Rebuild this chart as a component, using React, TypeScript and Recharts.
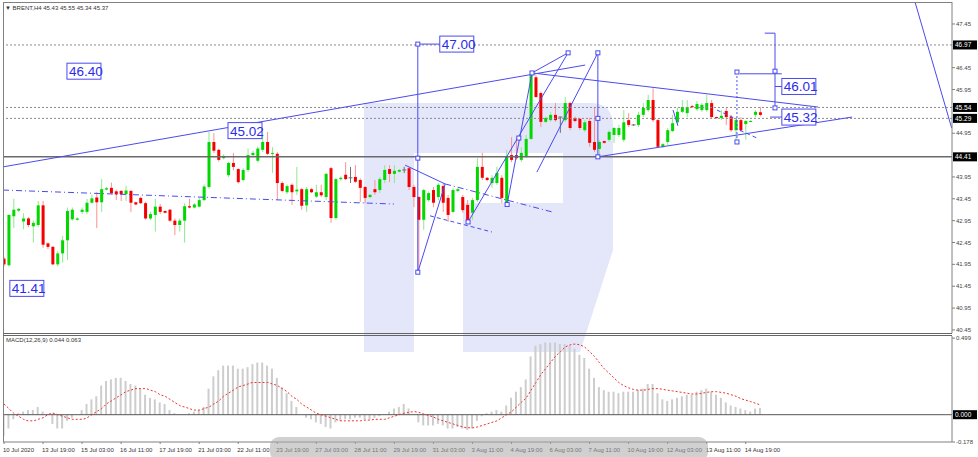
import React from 'react';
import { ComposedChart, Bar, Line, XAxis, YAxis, ReferenceLine, ReferenceDot } from 'recharts';

// BRENT H4, one entry per bar (index 0 = 10 Jul 2020)
const opens = [
  42.08, 41.93, 43.05, 43.18, 42.93, 43.0, 42.82, 42.85, 43.3, 42.43,
  42.35, 41.95, 42.2, 42.5, 42.98, 42.97, 43.15, 43.15, 43.36, 43.48,
  43.37, 43.66, 43.7, 43.62, 43.63, 43.56, 43.63, 43.37, 43.47, 43.35,
  43.0, 43.08, 43.27, 43.17, 43.2, 42.95, 42.85, 42.95, 43.28, 43.25,
  43.27, 43.42, 43.72, 44.75, 44.57, 44.38, 43.99, 44.27, 44.13, 43.88,
  44.11, 44.45, 44.32, 44.57, 44.75, 44.48, 44.48, 43.81, 43.6, 43.77,
  43.62, 43.67, 43.3, 43.67, 43.5, 43.6, 43.49, 44.15, 43.01, 43.9,
  44.0, 43.93, 43.95, 43.88, 43.72, 43.49, 43.67, 43.65, 43.88, 44.13,
  44.02, 44.07, 44.11, 44.15, 43.72, 43.49, 42.97, 43.42, 43.65, 43.49,
  43.74, 43.47, 43.15, 43.63, 43.49, 43.31, 43.13, 43.42, 44.18, 43.93,
  43.81, 43.81, 43.93, 43.31, 44.45, 44.45, 44.34, 44.41, 44.82, 46.23,
  45.87, 45.21, 45.25, 45.37, 45.32, 45.25, 45.64, 45.3, 45.28, 45.02,
  45.23, 44.75, 44.59, 44.77, 44.8, 44.91, 44.91, 44.8, 45.25, 45.14,
  45.14, 45.37, 45.48, 45.71, 45.25, 44.64, 44.75, 45.0, 45.2, 45.44,
  45.41, 45.57, 45.5, 45.48, 45.48, 45.64, 45.32, 45.3, 45.46, 45.32,
  45.02, 45.25, 45.16, 45.21, 45.37, 45.43,
];
const highs = [
  42.12, 43.1, 43.45, 43.24, 43.12, 43.03, 42.95, 43.4, 43.4, 42.45,
  42.37, 42.25, 42.6, 43.25, 43.25, 43.03, 43.25, 43.45, 43.55, 43.6,
  43.9, 43.72, 43.82, 43.66, 43.65, 43.75, 43.65, 43.38, 43.5, 43.38,
  43.15, 43.45, 43.33, 43.18, 43.22, 43.0, 43.0, 43.35, 43.45, 43.35,
  43.47, 43.78, 44.98, 44.95, 44.6, 44.47, 44.3, 44.5, 44.15, 44.15,
  44.6, 44.55, 44.65, 44.98, 44.98, 44.63, 44.52, 43.85, 43.78, 43.8,
  44.18, 43.7, 43.72, 43.7, 43.77, 43.77, 44.04, 44.18, 43.93, 43.96,
  44.29, 44.18, 44.22, 43.92, 43.74, 43.56, 43.88, 43.95, 44.22, 44.22,
  44.22, 44.13, 44.18, 44.18, 43.77, 43.51, 43.68, 43.62, 43.72, 43.81,
  43.81, 43.54, 43.7, 43.7, 43.54, 43.42, 43.47, 44.38, 44.5, 43.95,
  43.99, 44.18, 43.99, 44.57, 44.86, 44.86, 44.63, 44.91, 46.32, 46.28,
  45.9, 45.33, 45.44, 45.64, 45.33, 45.78, 45.67, 45.33, 45.3, 45.25,
  45.3, 45.55, 44.8, 44.78, 45.02, 45.09, 45.14, 45.48, 45.41, 45.16,
  45.44, 45.64, 45.83, 45.98, 45.28, 44.73, 45.07, 45.37, 45.53, 45.71,
  45.71, 45.6, 45.69, 45.64, 45.83, 45.71, 45.33, 45.48, 45.53, 45.37,
  45.3, 45.32, 45.25, 45.25, 45.48, 45.55,
];
const lows = [
  41.9, 41.9, 42.78, 43.15, 42.75, 42.8, 42.45, 42.8, 42.33, 42.3,
  41.93, 41.9, 41.99, 42.05, 42.95, 42.95, 43.1, 43.1, 43.34, 42.78,
  43.15, 43.64, 43.55, 43.42, 43.4, 43.4, 43.15, 43.3, 43.33, 42.97,
  42.96, 42.7, 43.1, 43.12, 42.92, 42.62, 42.7, 42.45, 43.23, 43.23,
  43.25, 43.4, 43.68, 44.5, 44.3, 44.35, 43.95, 44.1, 43.8, 43.85,
  44.06, 44.42, 44.28, 44.52, 44.45, 44.04, 43.42, 43.6, 43.56, 43.31,
  43.54, 43.2, 43.15, 43.58, 43.47, 43.49, 43.42, 42.9, 42.97, 43.86,
  43.88, 43.81, 43.81, 43.38, 43.35, 43.46, 43.54, 43.58, 43.81, 43.83,
  43.81, 44.05, 44.04, 43.65, 43.26, 41.8, 42.74, 43.38, 43.26, 43.42,
  43.15, 42.92, 43.13, 43.6, 43.13, 42.9, 42.97, 43.38, 43.88, 43.85,
  43.7, 43.77, 43.35, 43.26, 44.29, 44.34, 44.29, 44.38, 44.8, 45.76,
  45.09, 45.18, 45.21, 45.21, 44.96, 45.21, 45.02, 45.2, 45.02, 44.98,
  44.64, 44.52, 44.41, 44.71, 44.75, 44.73, 44.86, 44.75, 45.09, 45.12,
  45.09, 45.32, 45.44, 45.21, 44.61, 44.61, 44.68, 44.98, 45.14, 45.41,
  45.32, 45.53, 45.46, 45.44, 45.44, 45.3, 45.28, 45.25, 45.14, 44.98,
  44.8, 44.98, 44.8, 45.2, 45.32, 45.34,
];
const closes = [
  41.95, 43.08, 43.2, 43.22, 43.0, 42.85, 42.9, 43.3, 42.4, 42.35,
  41.95, 42.2, 42.5, 43.17, 43.2, 43.0, 43.2, 43.36, 43.46, 43.37,
  43.67, 43.69, 43.58, 43.55, 43.56, 43.64, 43.36, 43.32, 43.35, 43.0,
  43.1, 43.27, 43.15, 43.13, 42.95, 42.85, 42.95, 43.28, 43.25, 43.32,
  43.42, 43.73, 44.75, 44.55, 44.34, 44.43, 44.27, 44.18, 43.83, 44.11,
  44.45, 44.5, 44.6, 44.75, 44.48, 44.5, 43.81, 43.63, 43.74, 43.6,
  43.66, 43.29, 43.67, 43.6, 43.6, 43.53, 44.02, 43.01, 43.9, 43.93,
  43.9, 43.93, 43.84, 43.7, 43.47, 43.54, 43.6, 43.9, 44.11, 44.02,
  44.09, 44.11, 44.11, 43.72, 43.49, 42.97, 43.65, 43.58, 43.36, 43.77,
  43.36, 43.08, 43.65, 43.67, 43.19, 42.92, 43.42, 44.18, 43.93, 43.88,
  43.93, 44.04, 43.47, 44.43, 44.34, 44.38, 44.5, 44.82, 46.28, 45.78,
  45.21, 45.3, 45.37, 45.25, 45.32, 45.64, 45.07, 45.23, 45.07, 45.2,
  44.73, 44.57, 44.75, 44.73, 44.98, 45.07, 45.07, 45.2, 45.14, 45.14,
  45.37, 45.53, 45.71, 45.25, 44.64, 44.7, 45.02, 45.18, 45.44, 45.55,
  45.55, 45.55, 45.62, 45.6, 45.64, 45.32, 45.3, 45.35, 45.32, 45.02,
  45.25, 45.02, 45.23, 45.23, 45.44, 45.37,
];

// MACD(12,26,9): main line as histogram, signal as dotted line
const macdMain = [
  -0.14, -0.09, -0.03, 0.01, 0.02, 0.03, 0.03, 0.05, 0.02, 0.0,
  -0.06, -0.09, -0.09, -0.04, -0.02, 0.0, 0.03, 0.07, 0.1, 0.12,
  0.19, 0.22, 0.23, 0.24, 0.24, 0.22, 0.2, 0.19, 0.17, 0.13,
  0.11, 0.1, 0.08, 0.07, 0.03, 0.01, 0.0, 0.0, 0.01, 0.02,
  0.03, 0.05, 0.17, 0.25, 0.29, 0.32, 0.32, 0.32, 0.3, 0.3,
  0.31, 0.33, 0.34, 0.34, 0.32, 0.3, 0.24, 0.18, 0.14, 0.09,
  0.05, 0.0, -0.02, -0.03, -0.05, -0.06, -0.08, -0.09, -0.05, -0.04,
  -0.03, -0.03, -0.02, -0.02, -0.03, -0.03, -0.02, -0.01, 0.0, 0.02,
  0.04, 0.05, 0.07, 0.04, 0.0, -0.05, -0.07, -0.07, -0.07, -0.06,
  -0.07, -0.09, -0.09, -0.08, -0.09, -0.1, -0.09, -0.04, -0.01, 0.01,
  0.02, 0.03, 0.02, 0.06, 0.11, 0.15, 0.18, 0.23, 0.38, 0.45,
  0.46, 0.47, 0.47, 0.47, 0.46, 0.46, 0.45, 0.43, 0.39, 0.37,
  0.3, 0.24, 0.18, 0.16, 0.15, 0.15, 0.14, 0.15, 0.15, 0.15,
  0.16, 0.17, 0.2, 0.2, 0.14, 0.1, 0.09, 0.1, 0.11, 0.12,
  0.13, 0.13, 0.15, 0.16, 0.17, 0.15, 0.13, 0.11, 0.08, 0.06,
  0.05, 0.04, 0.03, 0.02, 0.04, 0.044,
];
const macdSignal = [
  0.07, 0.04, 0.01, -0.01, -0.03, -0.04, -0.04, -0.03, -0.02, 0.0,
  0.01, 0.0, -0.01, -0.02, -0.03, -0.03, -0.03, -0.02, 0.0, 0.02,
  0.04, 0.07, 0.09, 0.11, 0.13, 0.15, 0.16, 0.17, 0.17, 0.17,
  0.16, 0.15, 0.13, 0.12, 0.1, 0.08, 0.06, 0.05, 0.04, 0.03,
  0.03, 0.04, 0.05, 0.07, 0.09, 0.12, 0.14, 0.16, 0.18, 0.19,
  0.2, 0.21, 0.21, 0.21, 0.21, 0.2, 0.19, 0.17, 0.15, 0.12,
  0.1, 0.07, 0.05, 0.03, 0.01, 0.0, -0.01, -0.02, -0.03, -0.04,
  -0.04, -0.04, -0.04, -0.04, -0.035, -0.035, -0.03, -0.03, -0.03, -0.02,
  -0.01, 0.0, 0.01, 0.015, 0.02, 0.015, 0.005, -0.005, -0.015, -0.03,
  -0.04, -0.05, -0.06, -0.07, -0.08, -0.085, -0.085, -0.08, -0.07, -0.06,
  -0.05, -0.04, -0.02, 0.0, 0.02, 0.05, 0.08, 0.11, 0.16, 0.21,
  0.26, 0.3, 0.34, 0.38, 0.41, 0.44, 0.455, 0.46, 0.455, 0.44,
  0.41, 0.38, 0.34, 0.3, 0.27, 0.24, 0.21, 0.19, 0.175, 0.165,
  0.16, 0.16, 0.165, 0.17, 0.17, 0.165, 0.16, 0.155, 0.15, 0.145,
  0.14, 0.135, 0.135, 0.14, 0.145, 0.15, 0.15, 0.145, 0.14, 0.13,
  0.12, 0.105, 0.095, 0.085, 0.075, 0.063,
];

const dateTicks = [0, 8, 16, 24, 32, 40, 48, 56, 64, 72, 80, 88, 96, 104, 112, 120, 128, 136, 144, 152];
const dateLabels = [
  '10 Jul 2020', '13 Jul 19:00', '15 Jul 03:00', '16 Jul 11:00', '17 Jul 19:00',
  '21 Jul 03:00', '22 Jul 11:00', '23 Jul 19:00', '27 Jul 03:00', '28 Jul 11:00',
  '29 Jul 19:00', '31 Jul 03:00', '3 Aug 11:00', '4 Aug 19:00', '6 Aug 03:00',
  '7 Aug 11:00', '10 Aug 19:00', '12 Aug 03:00', '13 Aug 11:00', '14 Aug 19:00',
];
const priceTicks = [40.45, 40.95, 41.45, 41.95, 42.45, 42.95, 43.45, 43.95, 44.95, 45.95, 46.45, 47.45];
const macdTicks = [-0.178, 0.499];

// analyst drawings, in (bar index, price)
const solidLines = [
  [[-0.2, 44.18], [119.1, 46.51]],
  [[108.2, 46.33], [166.8, 45.55]],
  [[121.7, 44.41], [173.8, 45.32]],
  [[84.8, 46.99], [84.8, 41.77]],
  [[84.8, 46.99], [89.3, 46.99]],
  [[108.2, 46.33], [115.6, 46.79]],
  [[109.2, 44.06], [121.7, 46.79]],
  [[121.7, 46.79], [121.7, 44.41]],
  [[103.1, 43.32], [108.2, 46.33]],
  [[95.1, 42.92], [115.6, 46.79]],
  [[82.2, 44.22], [90.4, 43.79]],
  [[84.8, 41.77], [90.4, 43.79]],
  [[186.7, 47.95], [194.2, 45.07]],
  [[158.0, 47.24], [158.0, 45.53]],
  [[155.9, 47.24], [158.0, 47.24]],
  [[150.8, 46.31], [159.4, 46.31]],
  [[158.0, 46.02], [159.4, 46.02]],
  [[157.0, 45.32], [159.4, 45.32]],
  [[137.1, 45.48], [138.1, 45.12]],
];
const dashDotLines = [
  [[-0.2, 43.65], [79.9, 43.33]],
  [[90.4, 43.79], [112.3, 43.15]],
];
const dashedLines = [
  [[87.3, 43.06], [100.0, 42.69]],
  [[146.1, 45.48], [150.2, 45.27]],
  [[150.8, 45.02], [154.3, 44.84]],
];
const dottedLines = [
  [[150.2, 46.35], [150.2, 44.75]],
];
const markers = [
  [84.8, 46.99], [84.8, 44.38], [84.8, 41.77], [108.2, 46.33], [115.6, 46.79],
  [121.7, 46.79], [121.7, 45.29], [121.7, 44.41], [103.1, 43.32], [95.1, 42.92],
  [105.5, 44.84], [158.0, 46.37], [158.0, 45.53], [150.2, 46.35], [150.2, 44.75],
];
const boxLabels = [
  { i: 89.3, p: 46.99, text: '47.00' },
  { i: 12.9, p: 46.37, text: '46.40' },
  { i: 45.9, p: 45.01, text: '45.02' },
  { i: 1.2, p: 41.4, text: '41.41' },
  { i: 159.4, p: 46.02, text: '46.01' },
  { i: 159.4, p: 45.32, text: '45.32' },
];

const X_DOMAIN: [number, number] = [-0.205, 194.27];
const PRICE_DOMAIN: [number, number] = [40.379, 47.953];
const MACD_DOMAIN: [number, number] = [-0.178, 0.513];
const BLUE = '#4a4af0';
const FONT = "'Liberation Sans', Arial, sans-serif";

const rows = opens.map((o, i) => ({
  i,
  o,
  h: highs[i],
  l: lows[i],
  c: closes[i],
  range: [lows[i], highs[i]],
  macd: macdMain[i],
  signal: macdSignal[i],
}));

const Candle = (props: any) => {
  const { x, y, width, height, payload } = props;
  const { o, h, l, c } = payload;
  const top = Math.min(y, y + height);
  const span = Math.abs(height);
  const py = (p: number) => (h - l > 0 ? top + ((h - p) / (h - l)) * span : top);
  const cx = x + width / 2;
  const up = c > o;
  const down = c < o;
  const body = up ? '#00d800' : down ? '#f40000' : '#707070';
  const wick = up ? '#8fe88f' : down ? '#ff9090' : '#707070';
  const bTop = py(Math.max(o, c));
  const bBot = py(Math.min(o, c));
  return (
    <g>
      <line x1={cx} x2={cx} y1={top} y2={top + span} stroke={wick} strokeWidth={1} />
      {up || down ? (
        <rect x={cx - 1.5} y={bTop} width={3} height={Math.max(1, bBot - bTop)} fill={body} />
      ) : (
        <line x1={cx - 2} x2={cx + 2} y1={bTop} y2={bTop} stroke={body} />
      )}
    </g>
  );
};

const AxisTag = ({ viewBox, text }: any) => {
  if (!viewBox) return null;
  const x = viewBox.x + viewBox.width + 1;
  const y = viewBox.y;
  return (
    <g>
      <rect x={x} y={y - 4.5} width={24} height={9} fill="#000" />
      <text x={x + 2} y={y + 2.3} fontSize={6.5} fill="#fff" fontFamily={FONT}>
        {text}
      </text>
    </g>
  );
};

const boxShape = (text: string) => (props: any) => {
  const { cx, cy } = props;
  return (
    <g>
      <rect x={cx} y={cy - 8} width={34} height={16} fill="#fff" stroke={BLUE} strokeWidth={1} />
      <text x={cx + 2} y={cy + 5} fontSize={13.5} fill="#2b2bea" fontFamily={FONT}>
        {text}
      </text>
    </g>
  );
};

const squareShape = (props: any) => {
  const { cx, cy } = props;
  return <rect x={cx - 2} y={cy - 2} width={4} height={4} fill="#fff" stroke={BLUE} strokeWidth={1} />;
};

const DateTick = ({ x, y, payload }: any) => {
  const k = dateTicks.indexOf(payload.value);
  return (
    <text x={x - 1} y={y + 6} fontSize={6} fill="#333" fontFamily={FONT}>
      {k >= 0 ? dateLabels[k] : ''}
    </text>
  );
};

const segmentLines = (lines: number[][][], prefix: string, dash?: string) =>
  lines.map((s, k) => (
    <ReferenceLine
      key={prefix + k}
      yAxisId="p"
      segment={[{ x: s[0][0], y: s[0][1] }, { x: s[1][0], y: s[1][1] }]}
      stroke={BLUE}
      strokeWidth={1}
      strokeDasharray={dash}
      ifOverflow="visible"
    />
  ));

export default function App() {
  return (
    <div style={{ position: 'absolute', left: 0, top: 0, width: 978, height: 457, background: '#fff', overflow: 'hidden' }}>
      {/* watermark logo */}
      <svg width={978} height={457} style={{ position: 'absolute', left: 0, top: 0 }}>
        <path
          d="M364,103 H590 Q613,103 613,126 V250 L580,352 H463 V203 H563 V153 H414 V352 H364 Z"
          fill="#e4e6f9"
        />
      </svg>

      <div style={{ position: 'absolute', left: 0, top: 0 }}>
        <ComposedChart width={978} height={335} data={rows} margin={{ top: 2, right: 0, bottom: 2, left: 3 }}>
          <XAxis dataKey="i" type="number" domain={X_DOMAIN} hide allowDataOverflow />
          <YAxis
            yAxisId="p"
            orientation="right"
            domain={PRICE_DOMAIN}
            ticks={priceTicks}
            interval={0}
            width={26}
            tickSize={3}
            tickMargin={1}
            allowDataOverflow
            axisLine={{ stroke: '#808080' }}
            tickLine={{ stroke: '#808080' }}
            tick={{ fontSize: 6, fill: '#444', fontFamily: FONT }}
            tickFormatter={(v: number) => v.toFixed(2)}
          />
          <ReferenceLine yAxisId="p" y={46.97} stroke="#8a8a8a" strokeDasharray="2 2" label={<AxisTag text="46.97" />} />
          <ReferenceLine yAxisId="p" y={45.54} stroke="#8a8a8a" strokeDasharray="2 2" label={<AxisTag text="45.54" />} />
          <ReferenceLine yAxisId="p" y={45.29} stroke="#8a8a8a" strokeDasharray="2 2" label={<AxisTag text="45.29" />} />
          <ReferenceLine yAxisId="p" y={44.41} stroke="#6a6a6a" strokeWidth={1.5} label={<AxisTag text="44.41" />} />
          {segmentLines(dashDotLines, 'dd', '6 3 1 3')}
          {segmentLines(dashedLines, 'ds', '4 3')}
          <Bar yAxisId="p" dataKey="range" barSize={3} shape={<Candle />} isAnimationActive={false} />
          {segmentLines(solidLines, 'sl')}
          {segmentLines(dottedLines, 'dt', '2 2')}
          {markers.map((m, k) => (
            <ReferenceDot key={'mk' + k} yAxisId="p" x={m[0]} y={m[1]} shape={squareShape} ifOverflow="visible" />
          ))}
          {boxLabels.map((b) => (
            <ReferenceDot key={b.text} yAxisId="p" x={b.i} y={b.p} shape={boxShape(b.text)} ifOverflow="visible" />
          ))}
        </ComposedChart>
      </div>

      <div style={{ position: 'absolute', left: 0, top: 336 }}>
        <ComposedChart width={978} height={121} data={rows} margin={{ top: 0, right: 0, bottom: 0, left: 3 }}>
          <XAxis
            dataKey="i"
            type="number"
            domain={X_DOMAIN}
            ticks={dateTicks}
            interval={0}
            height={15}
            tickSize={2}
            axisLine={{ stroke: '#808080' }}
            tickLine={{ stroke: '#808080' }}
            tick={<DateTick />}
            allowDataOverflow
          />
          <YAxis
            yAxisId="m"
            orientation="right"
            domain={MACD_DOMAIN}
            ticks={macdTicks}
            interval={0}
            width={26}
            tickSize={3}
            tickMargin={1}
            allowDataOverflow
            axisLine={{ stroke: '#808080' }}
            tickLine={{ stroke: '#808080' }}
            tick={{ fontSize: 6, fill: '#444', fontFamily: FONT }}
            tickFormatter={(v: number) => v.toFixed(3)}
          />
          <Bar yAxisId="m" dataKey="macd" barSize={2} fill="#cdcdcd" isAnimationActive={false} />
          <ReferenceLine yAxisId="m" y={0} stroke="#555" strokeWidth={1} label={<AxisTag text="0.000" />} />
          <Line
            yAxisId="m"
            dataKey="signal"
            type="monotone"
            stroke="#f03030"
            strokeWidth={1}
            strokeDasharray="2 2"
            dot={false}
            isAnimationActive={false}
          />
        </ComposedChart>
      </div>

      {/* frame, captions and the scroll overlay */}
      <svg width={978} height={457} style={{ position: 'absolute', left: 0, top: 0, pointerEvents: 'none' }}>
        <line x1={3} x2={952} y1={2.5} y2={2.5} stroke="#808080" />
        <line x1={3.5} x2={3.5} y1={2} y2={442} stroke="#808080" />
        <line x1={3} x2={952} y1={333.5} y2={333.5} stroke="#666" />
        <line x1={3} x2={952} y1={335.5} y2={335.5} stroke="#666" />
        <text x={5} y={10} fontSize={6} fill="#333" fontFamily={FONT}>
          ▼ BRENT,H4  45.43 45.55 45.34 45.37
        </text>
        <text x={6} y={342} fontSize={6} fill="#333" fontFamily={FONT}>
          MACD(12,26,9) 0.044 0.063
        </text>
        <rect x={270} y={437} width={438} height={24} rx={9} fill="#a9a9a9" opacity={0.55} />
      </svg>
    </div>
  );
}
